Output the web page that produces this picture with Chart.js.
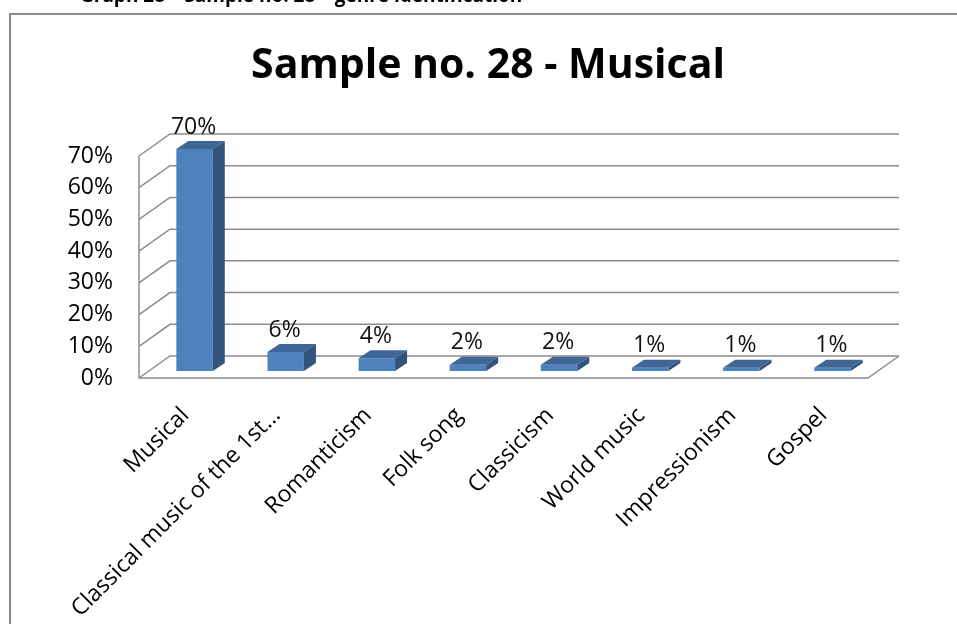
<!DOCTYPE html>
<html>
<head>
<meta charset="utf-8">
<script src="https://cdn.jsdelivr.net/npm/chart.js@4.4.0/dist/chart.umd.min.js"></script>
<style>
  html, body { margin: 0; padding: 0; background: #fff; }
  #wrap { width: 957px; height: 624px; position: relative; }
</style>
</head>
<body>
<div id="wrap"><canvas id="genreChart"></canvas></div>
<script>
const genres = ['Musical', 'Classical music of the 1st…', 'Romanticism', 'Folk song', 'Classicism', 'World music', 'Impressionism', 'Gospel'];
const shares = [70, 6, 4, 2, 2, 1, 1, 1];
const yTicks = [0, 10, 20, 30, 40, 50, 60, 70];
const chartTitle = 'Sample no. 28 - Musical';
const caption = 'Graph 28 – Sample no. 28 – genre identification';

const FONT = "'Open Sans', 'Liberation Sans', sans-serif";
const WALL = { dx: 31, dy: -22 };      // depth of floor and side wall
const BAR_POS = { dx: 10, dy: -7 };    // bars stand a little behind the front edge
const BAR_DEPTH = { dx: 12, dy: -8 };  // thickness of each column
const colors = { front: '#4f81bd', top: '#3e6798', side: '#32537b', grid: '#8c8c8c' };

// caption, frame, title, walls and column faces for the 3-D look
const frame3d = {
  id: 'frame3d',
  beforeDraw(chart) {
    const ctx = chart.ctx;
    ctx.save();
    ctx.fillStyle = '#000';
    ctx.font = 'bold 19px ' + FONT;
    ctx.textBaseline = 'alphabetic';
    ctx.fillText(caption, 80, 2);

    ctx.strokeStyle = '#8a8a8a';
    ctx.lineWidth = 2;
    ctx.strokeRect(10, 14, chart.width + 50, chart.height + 50);

    ctx.font = 'bold 41px ' + FONT;
    ctx.textAlign = 'center';
    ctx.fillText(chartTitle, 488, 78);
    ctx.restore();
  },
  beforeDatasetsDraw(chart) {
    const { ctx, scales: { x, y } } = chart;
    const left = x.left, right = x.right, bottom = y.bottom;
    ctx.save();
    ctx.strokeStyle = colors.grid;
    ctx.lineWidth = 1.5;
    ctx.beginPath();
    y.ticks.forEach(t => {
      const py = y.getPixelForValue(t.value);
      ctx.moveTo(left, py);
      ctx.lineTo(left + WALL.dx, py + WALL.dy);
      ctx.lineTo(right + WALL.dx, py + WALL.dy);
    });
    ctx.moveTo(left, y.top);
    ctx.lineTo(left, bottom);
    ctx.lineTo(right, bottom);
    ctx.lineTo(right + WALL.dx, bottom + WALL.dy);
    ctx.stroke();
    ctx.restore();

    // columns are drawn shifted back into the box
    ctx.save();
    ctx.translate(BAR_POS.dx, BAR_POS.dy);
  },
  afterDatasetsDraw(chart) {
    const ctx = chart.ctx;
    const values = chart.data.datasets[0].data;
    chart.getDatasetMeta(0).data.forEach((bar, i) => {
      const { x, y, base, width } = bar.getProps(['x', 'y', 'base', 'width'], true);
      const l = x - width / 2, r = x + width / 2;
      const dx = BAR_DEPTH.dx, dy = BAR_DEPTH.dy;

      ctx.fillStyle = colors.top;
      ctx.beginPath();
      ctx.moveTo(l, y);
      ctx.lineTo(r, y);
      ctx.lineTo(r + dx, y + dy);
      ctx.lineTo(l + dx, y + dy);
      ctx.closePath();
      ctx.fill();

      ctx.fillStyle = colors.side;
      ctx.beginPath();
      ctx.moveTo(r, y);
      ctx.lineTo(r + dx, y + dy);
      ctx.lineTo(r + dx, base + dy);
      ctx.lineTo(r, base);
      ctx.closePath();
      ctx.fill();

      ctx.fillStyle = '#111';
      ctx.font = '23px ' + FONT;
      ctx.textAlign = 'center';
      ctx.textBaseline = 'middle';
      ctx.fillText(values[i] + '%', x - 1, y - 22);
    });
    ctx.restore();
  }
};

new Chart(document.getElementById('genreChart'), {
  type: 'bar',
  data: {
    labels: genres,
    datasets: [{
      data: shares,
      backgroundColor: colors.front,
      borderWidth: 0,
      barPercentage: 0.4,
      categoryPercentage: 1
    }]
  },
  options: {
    responsive: true,
    maintainAspectRatio: false,
    animation: false,
    layout: { padding: { left: 0, right: 89, top: 156, bottom: 0 } },
    plugins: {
      legend: { display: false },
      tooltip: { enabled: false },
      title: { display: false }
    },
    scales: {
      x: {
        grid: { display: false, drawTicks: false },
        border: { display: false },
        ticks: {
          autoSkip: false,
          minRotation: 45,
          maxRotation: 45,
          labelOffset: 1,
          padding: 24,
          color: '#000',
          font: { family: FONT, size: 23 }
        },
        afterFit: s => { s.height = 246; }
      },
      y: {
        min: 0,
        max: 70,
        grid: { display: false, drawTicks: false },
        border: { display: false },
        afterBuildTicks: s => { s.ticks = yTicks.map(v => ({ value: v })); },
        ticks: {
          padding: 26,
          color: '#000',
          font: { family: FONT, size: 23 },
          callback: v => v + '%'
        },
        afterFit: s => { s.width = 139; }
      }
    }
  },
  plugins: [frame3d]
});
</script>
</body>
</html>
